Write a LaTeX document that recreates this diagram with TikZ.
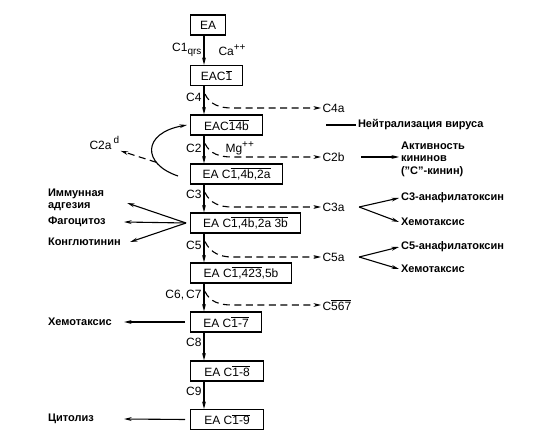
\documentclass[tikz,border=0pt]{standalone}
\usepackage{fontspec}
\setmainfont{Liberation Sans}
\usetikzlibrary{arrows.meta, calc, positioning}
\newcommand{\olin}[1]{\ensuremath{\overline{\mbox{#1}}}}
\newcommand{\sups}[1]{\raisebox{0.85ex}{\fontsize{10}{10}\selectfont #1}}
\newcommand{\subs}[1]{\raisebox{-0.45ex}{\fontsize{10}{10}\selectfont #1}}

\tikzset{
  box/.style={draw, anchor=west, minimum height=20pt, inner xsep=3pt, font=\fontsize{12}{14}\selectfont},
  lbl/.style={inner sep=1pt, font=\fontsize{12}{14}\selectfont},
  res/.style={anchor=west, align=left, inner sep=1.5pt, font=\bfseries\fontsize{11}{11.5}\selectfont},
  dsh/.style={dash pattern=on 7pt off 4.5pt},
}

\begin{document}
\begin{tikzpicture}[x=1pt,y=1pt,line width=1.1pt,>={Stealth[length=7.5pt,width=3.8pt]}]
        \useasboundingbox (0,0) rectangle (553,444);

        % main chain
        \node[box, minimum width=35pt]  (ea)     at (190,419)   {EA};
        \node[box, minimum width=52pt]  (eac1)   at (190,368.5) {EAC\olin{1}};
        \node[box, minimum width=72pt]  (eac4b)  at (190,319)   {EAC\olin{14b}};
        \node[box, minimum width=92pt]  (eac2a)  at (190,270)   {EA C\olin{1,4b,2a}};
        \node[box, minimum width=110pt] (eac3b)  at (190,221)   {EA C\olin{1,4b,2a 3b}};
        \node[box, minimum width=101pt] (eac5b)  at (190,171)   {EA C\olin{1,423},5b};
        \node[box, minimum width=71pt]  (eac7)   at (190,122)   {EA C\olin{1-7}};
        \node[box, minimum width=73pt]  (eac8)   at (190,73)    {EA C\olin{1-8}};
        \node[box, minimum width=73pt]  (eac9)   at (190,24.5)  {EA C\olin{1-9}};

        % split products
        \node[lbl, anchor=west] (c4a)  at (321,336) {C4a};
        \node[lbl, anchor=west] (c2b)  at (321,287) {C2b};
        \node[lbl, anchor=west] (c3a)  at (321,237) {C3a};
        \node[lbl, anchor=west] (c5a)  at (321,187) {C5a};
        \node[lbl, anchor=west] (c567) at (321,139) {C\olin{567}};
        \node[lbl, anchor=west] (c2ad) at (88,301)  {C2a\,\sups{d}};

        % effects
        \node[res] (neut) at (356,319) {Нейтрализация вируса};
        \node[res, font=\bfseries\fontsize{11}{12.5}\selectfont] (akt) at (399,285) {Активность\\кининов\\("C"-кинин)};
        \node[res] (an3)  at (399,246) {С3-анафилатоксин};
        \node[res] (hem3) at (399,222) {Хемотаксис};
        \node[res] (an5)  at (399,197) {С5-анафилатоксин};
        \node[res] (hem5) at (399,175) {Хемотаксис};
        \node[res, text width=74pt] (imm)  at (46,244) {Иммунная\\адгезия};
        \node[res, text width=74pt] (fag)  at (46,222) {Фагоцитоз};
        \node[res, text width=74pt] (kon)  at (46,202) {Конглютинин};
        \node[res, text width=74pt] (hem7) at (46,122) {Хемотаксис};
        \node[res, text width=74pt] (cyt)  at (46,25)  {Цитолиз};

        \draw[->] ([xshift=14pt]ea.south west) -- node[lbl, left=1pt] {C1\subs{qrs}}
            node[lbl, right=13pt] {Ca\sups{++}} ([xshift=14pt]eac1.north west);
        \draw[->] ([xshift=14pt]eac1.south west) -- node[lbl, pos=0.4, left=1pt] {C4} ([xshift=14pt]eac4b.north west);
        \draw[->] ([xshift=14pt]eac4b.south west) -- node[lbl, pos=0.45, left=1pt] {C2}
            node[lbl, pos=0.45, right=20pt] {Mg\sups{++}} ([xshift=14pt]eac2a.north west);
        \draw[->] ([xshift=14pt]eac2a.south west) -- node[lbl, pos=0.35, left=1pt] {C3} ([xshift=14pt]eac3b.north west);
        \draw[->] ([xshift=14pt]eac3b.south west) -- node[lbl, pos=0.4, left=1pt] {C5} ([xshift=14pt]eac5b.north west);
        \draw[->] ([xshift=14pt]eac5b.south west) -- node[lbl, pos=0.4, left=1pt] {C6,\,C7} ([xshift=14pt]eac7.north west);
        \draw[->] ([xshift=14pt]eac7.south west) -- node[lbl, pos=0.35, left=1pt] {C8} ([xshift=14pt]eac8.north west);
        \draw[->] ([xshift=14pt]eac8.south west) -- node[lbl, pos=0.35, left=1pt] {C9} ([xshift=14pt]eac9.north west);

        \draw[dsh, ->] ([xshift=15pt,yshift=-8pt]eac1.south west) to[out=-65,in=180]
            ($(eac1.south west |- c4a.west)+(42,0)$) -- (c4a.west);
        \draw[dsh, ->] ([xshift=15pt,yshift=-8pt]eac4b.south west) to[out=-65,in=180]
            ($(eac4b.south west |- c2b.west)+(42,0)$) -- (c2b.west);
        \draw[dsh, ->] ([xshift=15pt,yshift=-8pt]eac2a.south west) to[out=-65,in=180]
            ($(eac2a.south west |- c3a.west)+(42,0)$) -- (c3a.west);
        \draw[dsh, ->] ([xshift=15pt,yshift=-8pt]eac3b.south west) to[out=-65,in=180]
            ($(eac3b.south west |- c5a.west)+(42,0)$) -- (c5a.west);
        \draw[dsh, ->] ([xshift=15pt,yshift=-8pt]eac5b.south west) to[out=-65,in=180]
            ($(eac5b.south west |- c567.west)+(42,0)$) -- (c567.west);

        \draw[->] ([xshift=-12pt,yshift=-2pt]eac2a.west) .. controls +(-36,12) and +(-45,-8) ..
            ([xshift=-3pt]eac4b.west) coordinate[pos=0.28] (c2d);
        \draw[dsh, ->] (c2d) -- (c2ad.south east);

        \draw ([xshift=-30pt]neut.west) -- (neut.west);
        \draw[->] ([xshift=15pt]c2b.east) -- (c2b.east -| akt.west);
        \draw[->] ([xshift=13pt]c3a.east) -- (an3.west);
        \draw[->] ([xshift=13pt]c3a.east) -- (hem3.west);
        \draw[->] ([xshift=13pt]c5a.east) -- (an5.west);
        \draw[->] ([xshift=13pt]c5a.east) -- (hem5.west);

        \draw[->] ([xshift=-4pt]eac3b.west) -- ([xshift=3pt,yshift=-3pt]imm.east);
        \draw[->] ([xshift=-4pt]eac3b.west) -- (fag.east);
        \draw[->] ([xshift=-4pt]eac3b.west) -- ([xshift=6pt]kon.east);
        \draw[->] ([xshift=-5pt]eac7.west) -- (hem7.east);
        \draw[->] ([xshift=-5pt]eac9.west) -- (cyt.east);
\end{tikzpicture}
\end{document}
